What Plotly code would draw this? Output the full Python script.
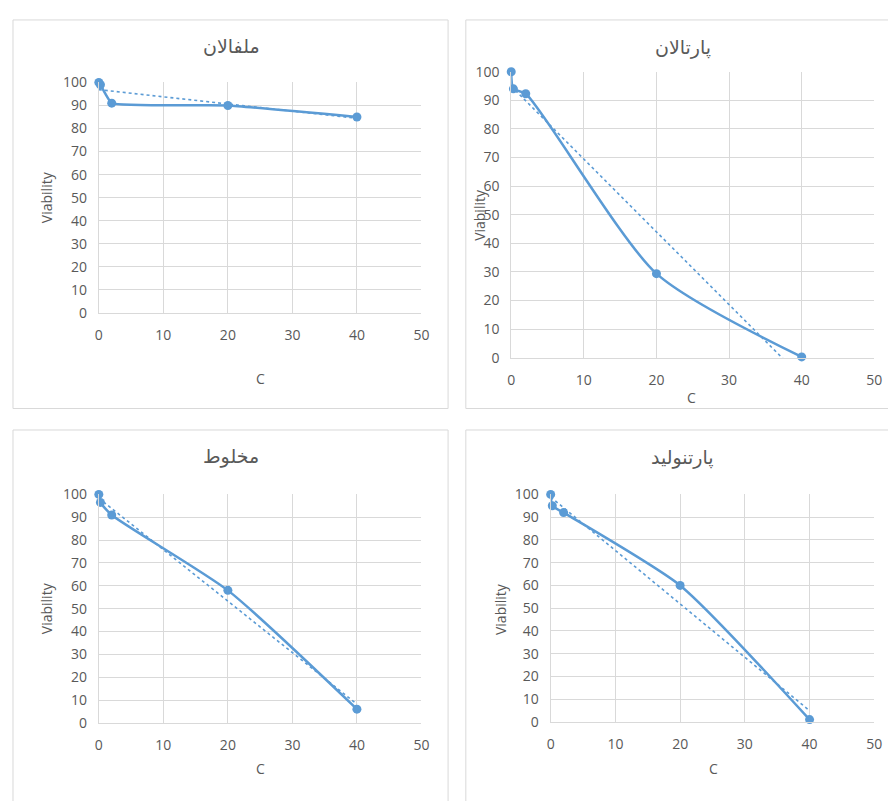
import numpy as np
import plotly.graph_objects as go

W, H = 896, 801
OFF = 8  # page body margin in the browser

# ---------------- data ----------------
titles = ["ملفالان", "پارتالان", "مخلوط", "پارتنولید"]
conc_melphalan = [0, 0.25, 2, 20, 40]
viab_melphalan = [100, 99, 91, 90, 85]
conc_partalan = [0, 0.3, 2, 20, 40]
viab_partalan = [100, 94, 92.3, 29.4, 0.3]
conc_mix = [0, 0.25, 2, 20, 40]
viab_mix = [100, 96.5, 91, 58, 6]
conc_parthenolide = [0, 0.25, 2, 20, 40]
viab_parthenolide = [100, 95, 92, 60, 1]
x_ticks = [0, 10, 20, 30, 40, 50]
y_ticks = [0, 10, 20, 30, 40, 50, 60, 70, 80, 90, 100]
x_title = "C"
y_title = "Viability"

series = [
    (conc_melphalan, viab_melphalan),
    (conc_partalan, viab_partalan),
    (conc_mix, viab_mix),
    (conc_parthenolide, viab_parthenolide),
]

# ---------------- layout geometry (screen pixels) ----------------
plots = [  # left, top, right, bottom of plot area
    (96, 74, 423, 310),
    (514, 63, 882, 356),
    (96, 496, 423, 730),
    (554, 496, 882, 729),
]
frames = [  # chart borders
    (9, 10, 450, 408),
    (468, 10, 910, 408),
    (9, 430, 450, 812),
    (468, 430, 910, 812),
]
title_pos = [(230, 37), (688, 38), (230, 457), (688, 458)]
ytitle_pos = [(43, 192), (482, 210), (43, 613), (503, 613)]
xtitle_pos = [(260, 377), (697, 397), (260, 777), (719, 777)]
smooth = [0.35, 0.7, 0.6, 0.6]

BLUE = "#5B9BD5"
GRID = "#D9D9D9"
TXT = "#595959"
FONT = "Open Sans"

def px(x):
    return (x - OFF) / W

def py(y):
    return 1 - (y - OFF) / H

fig = go.Figure()
layout = dict(
    width=W, height=H, margin=dict(l=0, r=0, t=0, b=0),
    paper_bgcolor="white", plot_bgcolor="white", showlegend=False,
)
annotations = []
shapes = []

for i, ((xs, ys), (l, t, r, b)) in enumerate(zip(series, plots)):
    n = "" if i == 0 else str(i + 1)
    xa, ya = "x" + n, "y" + n
    layout["xaxis" + n] = dict(
        domain=[px(l), px(r)], range=[0, 50], tickvals=x_ticks,
        showgrid=True, gridcolor=GRID, gridwidth=1, zeroline=False,
        showline=True, linecolor=GRID, ticks="", ticklabelstandoff=9,
        tickfont=dict(family=FONT, size=14, color=TXT), anchor=ya,
        fixedrange=True,
    )
    layout["yaxis" + n] = dict(
        domain=[py(b), py(t)], range=[0, 100], tickvals=y_ticks,
        showgrid=True, gridcolor=GRID, gridwidth=1, zeroline=False,
        showline=True, linecolor=GRID, ticks="", ticklabelstandoff=8,
        tickfont=dict(family=FONT, size=14, color=TXT), anchor=xa,
        fixedrange=True,
    )
    # linear trendline (least squares fit of the data, like Excel)
    k, c = np.polyfit(xs, ys, 1)
    tx = [min(xs), max(xs)]
    fig.add_trace(go.Scatter(
        x=tx, y=[k * v + c for v in tx], mode="lines", xaxis=xa, yaxis=ya,
        line=dict(color=BLUE, width=1.6, dash="dot"), hoverinfo="skip",
    ))
    fig.add_trace(go.Scatter(
        x=xs, y=ys, mode="lines+markers", xaxis=xa, yaxis=ya,
        line=dict(color=BLUE, width=2.5, shape="spline", smoothing=smooth[i]),
        marker=dict(color=BLUE, size=9), cliponaxis=False,
    ))
    fl, ft, fr, fb = frames[i]
    shapes.append(dict(type="rect", xref="paper", yref="paper",
                       x0=px(fl), x1=px(fr), y0=py(fb), y1=py(ft),
                       line=dict(color=GRID, width=1), layer="below"))
    tx_, ty_ = title_pos[i]
    annotations.append(dict(text=titles[i], x=px(tx_), y=py(ty_), xref="paper", yref="paper",
                            showarrow=False, xanchor="center", yanchor="middle",
                            font=dict(family="DejaVu Sans", size=19, color=TXT)))
    yx, yy = ytitle_pos[i]
    annotations.append(dict(text=y_title, x=px(yx), y=py(yy), xref="paper", yref="paper",
                            showarrow=False, xanchor="center", yanchor="middle", textangle=-90,
                            font=dict(family=FONT, size=14, color=TXT)))
    xx, xy = xtitle_pos[i]
    annotations.append(dict(text=x_title, x=px(xx), y=py(xy), xref="paper", yref="paper",
                            showarrow=False, xanchor="center", yanchor="middle",
                            font=dict(family=FONT, size=14, color=TXT)))

layout["annotations"] = annotations
layout["shapes"] = shapes
fig.update_layout(**layout)
fig.write_html("out.html")
